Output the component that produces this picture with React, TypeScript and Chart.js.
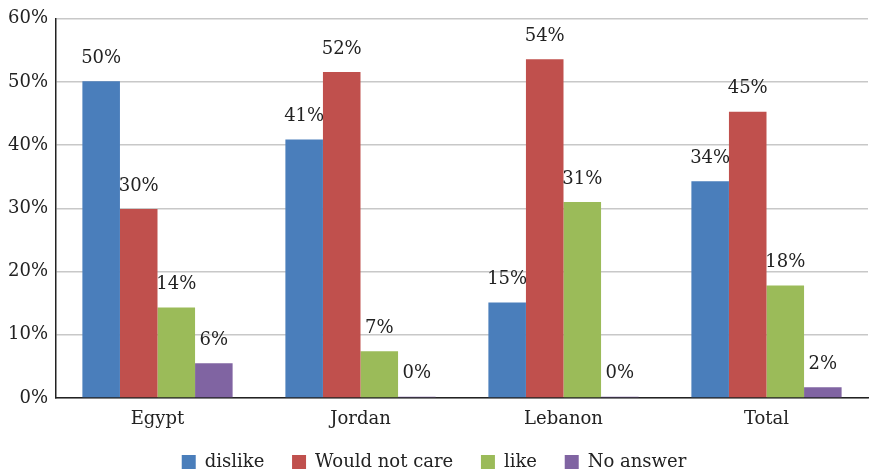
import React, { useEffect, useRef } from "react";
import { Chart, registerables } from "chart.js";

Chart.register(...registerables);

const categories = ["Egypt", "Jordan", "Lebanon", "Total"];
const seriesNames = ["dislike", "Would not care", "like", "No answer"];
const dislike = [50.1, 40.9, 15.1, 34.3];
const wouldNotCare = [29.9, 51.6, 53.6, 45.3];
const like = [14.3, 7.4, 31.0, 17.8];
const noAnswer = [5.5, 0.2, 0.2, 1.7];
const colors = ["#4a7ebb", "#c0504d", "#9bbb59", "#8064a2"];
const yTicks = [0, 10, 20, 30, 40, 50, 60];

const FONT = "'DejaVu Serif', serif";
const TEXT = "#222222";

const labelPlugin = {
  id: "barLabels",
  afterDatasetsDraw(chart: any) {
    const ctx = chart.ctx;
    ctx.save();
    ctx.font = `18px ${FONT}`;
    ctx.fillStyle = TEXT;
    ctx.textAlign = "center";
    ctx.textBaseline = "middle";
    chart.data.datasets.forEach((ds: any, i: number) => {
      const meta = chart.getDatasetMeta(i);
      meta.data.forEach((el: any, j: number) => {
        const v = ds.data[j];
        ctx.fillText(Math.round(v) + "%", el.x, el.y - 23);
      });
    });
    ctx.restore();
  },
};

export default function App() {
  const ref = useRef<HTMLCanvasElement>(null);
  useEffect(() => {
    const series = [dislike, wouldNotCare, like, noAnswer];
    const chart = new Chart(ref.current!, {
      type: "bar",
      data: {
        labels: categories,
        datasets: series.map((d, i) => ({
          label: seriesNames[i],
          data: d,
          backgroundColor: colors[i],
          borderWidth: 0,
          barPercentage: 1,
          categoryPercentage: 0.74,
        })),
      },
      plugins: [labelPlugin],
      options: {
        animation: false,
        responsive: false,
        maintainAspectRatio: false,
        layout: { padding: { top: 16, right: 2, left: 0, bottom: 0 } },
        plugins: {
          legend: {
            position: "bottom",
            maxHeight: 26,
            labels: {
              font: { family: FONT, size: 18 },
              color: TEXT,
              boxWidth: 14,
              boxHeight: 14,
              padding: 4,
              generateLabels(chart: any) {
                const items = Chart.defaults.plugins.legend.labels.generateLabels(chart);
                return items.map((it: any, i: number) => ({
                  ...it,
                  text: i < items.length - 1 ? it.text + "\u2003 " : it.text,
                }));
              },
            },
          },
          tooltip: { enabled: false },
        },
        scales: {
          x: {
            grid: { display: false, drawTicks: false },
            border: { color: "#222", width: 1.5 },
            ticks: { font: { family: FONT, size: 18 }, color: TEXT, padding: 11 },
            afterFit(scale: any) {
              scale.height = 51;
            },
          },
          y: {
            min: 0,
            max: 60,
            afterBuildTicks(scale: any) {
              scale.ticks = yTicks.map((v) => ({ value: v }));
            },
            grid: { color: "#c8c8c8", lineWidth: 1.5, drawTicks: false },
            border: { color: "#222", width: 1.5 },
            ticks: {
              font: { family: FONT, size: 18 },
              color: TEXT,
              padding: 8,
              callback: (v: any) => v + "%",
            },
            afterFit(scale: any) {
              scale.width = 56;
            },
          },
        },
      },
    });
    return () => chart.destroy();
  }, []);
  return (
    <div style={{ position: "fixed", left: 0, top: 0, width: 870, height: 475, background: "#fff" }}>
      <canvas ref={ref} width={870} height={475} style={{ width: 870, height: 475 }} />
    </div>
  );
}
